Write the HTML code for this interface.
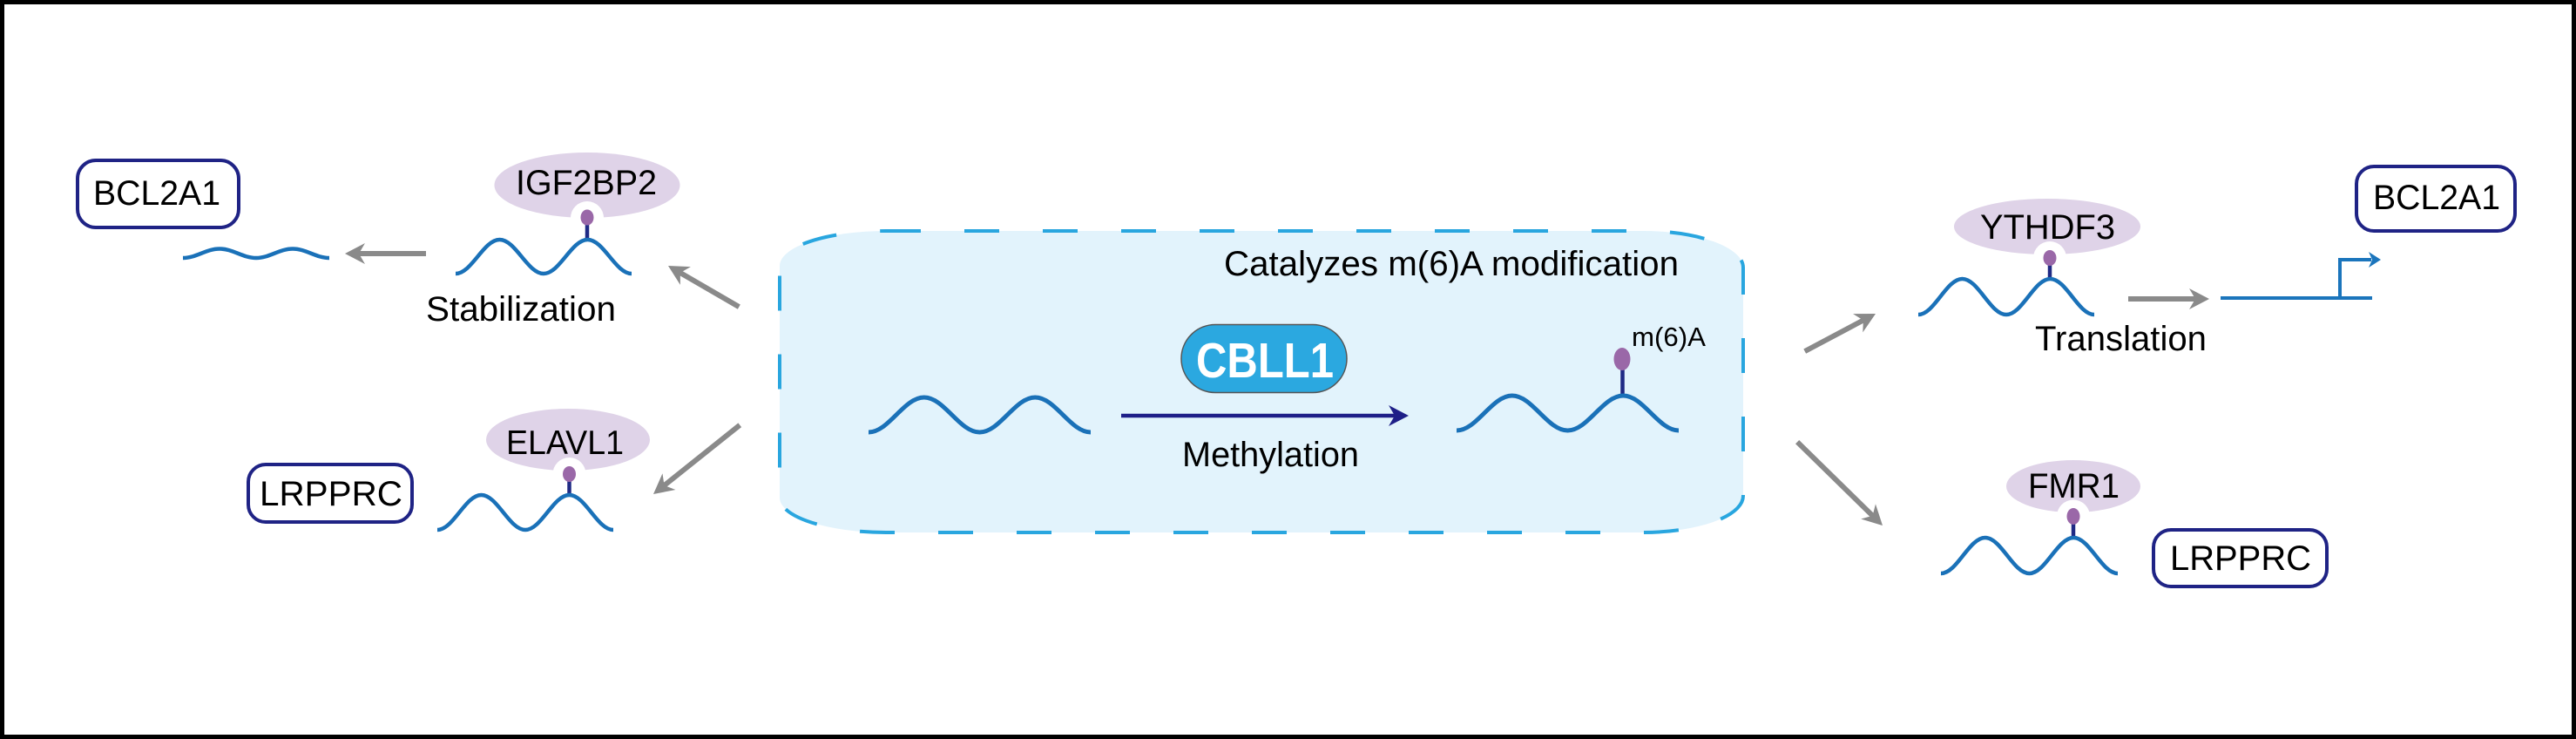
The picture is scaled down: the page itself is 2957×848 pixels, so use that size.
<!DOCTYPE html>
<html>
<head>
<meta charset="utf-8">
<style>
  html, body { margin: 0; padding: 0; background: #ffffff; }
  svg { display: block; }
  text { font-family: "Liberation Sans", Arial, sans-serif; fill: #000; }
</style>
</head>
<body>
<svg xmlns="http://www.w3.org/2000/svg" width="2957" height="848" viewBox="0 0 2957 848">
  <rect x="0" y="0" width="2957" height="848" fill="#ffffff"/>
  <!-- outer border -->
  <rect x="2.5" y="2.5" width="2952" height="843" fill="none" stroke="#000" stroke-width="5"/>

  <!-- central dashed box -->
  <path d="M1017,265 H1886 A115,42 0 0 1 2001,307 V569 A115,42 0 0 1 1886,611 H1017 A122,40 0 0 1 895,571 V305 A122,40 0 0 1 1017,265 Z"
        fill="#e2f3fc" stroke="#29a6df" stroke-width="4" stroke-dasharray="40 50"/>

  <!-- ============ LEFT SIDE ============ -->
  <!-- BCL2A1 box left -->
  <rect x="89" y="184" width="185" height="77" rx="21" ry="21" fill="#fff" stroke="#1f2385" stroke-width="4"/>
  <text x="107" y="235" font-size="40" textLength="146" lengthAdjust="spacingAndGlyphs">BCL2A1</text>

  <!-- flat wave -->
  <path d="M210,296 C225.3,296 236.7,285.5 252,285.5 S278.7,296 294,296 S320.7,285.5 336,285.5 S362.7,296 378,296"
        fill="none" stroke="#1a71b8" stroke-width="4.5"/>

  <!-- gray arrow left horizontal -->
  <g transform="translate(396,291) rotate(180)" fill="#8a8a8a" stroke="none">
    <line x1="-93" y1="0" x2="-15" y2="0" stroke="#8a8a8a" stroke-width="6"/>
    <path d="M0,0 L-23,-12 L-16,0 L-23,12 Z"/>
  </g>

  <!-- IGF2BP2 -->
  <ellipse cx="674" cy="212.5" rx="106.5" ry="37.5" fill="#dfd3e8"/>
  <text x="592" y="223" font-size="40" textLength="162" lengthAdjust="spacingAndGlyphs">IGF2BP2</text>
  <circle cx="674" cy="250" r="19" fill="#fff"/>
  <line x1="674" y1="256" x2="674" y2="277" stroke="#1f2a85" stroke-width="4.5"/>
  <ellipse cx="674" cy="249.5" rx="7.5" ry="9" fill="#9a68a8"/>
  <path d="M523,314 C541.35,314 555.15,275 573.5,275 S605.65,314 624,314 S656.15,275 674.5,275 S706.65,314 725,314"
        fill="none" stroke="#1a71b8" stroke-width="4.5"/>
  <text x="489" y="368" font-size="40" textLength="218" lengthAdjust="spacingAndGlyphs">Stabilization</text>

  <!-- gray arrow upper-left diag -->
  <g transform="translate(767,305) rotate(210.1)" fill="#8a8a8a">
    <line x1="-94" y1="0" x2="-15" y2="0" stroke="#8a8a8a" stroke-width="6"/>
    <path d="M0,0 L-23,-12 L-16,0 L-23,12 Z"/>
  </g>

  <!-- LRPPRC left -->
  <rect x="285" y="533" width="188" height="66" rx="20" ry="20" fill="#fff" stroke="#1f2385" stroke-width="4"/>
  <text x="298" y="580" font-size="40" textLength="164" lengthAdjust="spacingAndGlyphs">LRPPRC</text>

  <!-- ELAVL1 -->
  <ellipse cx="652" cy="504.5" rx="94" ry="35.5" fill="#dfd3e8"/>
  <text x="581" y="521" font-size="39" textLength="135" lengthAdjust="spacingAndGlyphs">ELAVL1</text>
  <circle cx="653.5" cy="544" r="19" fill="#fff"/>
  <line x1="653.5" y1="550" x2="653.5" y2="570" stroke="#1f2a85" stroke-width="4.5"/>
  <ellipse cx="653.5" cy="544" rx="7.5" ry="9" fill="#9a68a8"/>
  <path d="M502,608 C520.35,608 534.15,568 552.5,568 S584.65,608 603,608 S635.15,568 653.5,568 S685.65,608 704,608"
        fill="none" stroke="#1a71b8" stroke-width="4.5"/>

  <!-- gray arrow lower-left diag -->
  <g transform="translate(750,567) rotate(141.4)" fill="#8a8a8a">
    <line x1="-127" y1="0" x2="-15" y2="0" stroke="#8a8a8a" stroke-width="6"/>
    <path d="M0,0 L-23,-12 L-16,0 L-23,12 Z"/>
  </g>

  <!-- ============ CENTER ============ -->
  <text x="1405" y="316" font-size="40" textLength="522" lengthAdjust="spacingAndGlyphs">Catalyzes m(6)A modification</text>

  <!-- left RNA -->
  <path d="M997,496 C1020.17,496 1037.58,456 1060.75,456 S1101.33,496 1124.5,496 S1165.08,456 1188.25,456 S1228.83,496 1252,496"
        fill="none" stroke="#1a71b8" stroke-width="5"/>

  <!-- CBLL1 pill -->
  <rect x="1356" y="372.5" width="190" height="78" rx="39" ry="39" fill="#2ba8e0" stroke="#555" stroke-width="1.5"/>
  <text x="1373" y="433" font-size="57" font-weight="bold" textLength="158" lengthAdjust="spacingAndGlyphs" style="fill:#ffffff">CBLL1</text>

  <!-- methylation arrow -->
  <g transform="translate(1617,477)" fill="#1e1f88">
    <line x1="-330" y1="0" x2="-15" y2="0" stroke="#1e1f88" stroke-width="4.5"/>
    <path d="M0,0 L-23,-12 L-16,0 L-23,12 Z"/>
  </g>
  <text x="1357" y="535" font-size="40" textLength="203" lengthAdjust="spacingAndGlyphs">Methylation</text>

  <!-- right RNA with m6A -->
  <line x1="1862.5" y1="422" x2="1862.5" y2="455" stroke="#1f2a85" stroke-width="4.5"/>
  <ellipse cx="1862" cy="412" rx="9.5" ry="13" fill="#9a68a8"/>
  <path d="M1672,494 C1695.17,494 1712.58,454 1735.75,454 S1776.33,494 1799.5,494 S1840.08,454 1863.25,454 S1903.83,494 1927,494"
        fill="none" stroke="#1a71b8" stroke-width="5"/>
  <text x="1873" y="397" font-size="31" textLength="85" lengthAdjust="spacingAndGlyphs">m(6)A</text>

  <!-- ============ RIGHT SIDE ============ -->
  <!-- gray arrow right upper diag -->
  <g transform="translate(2153,360) rotate(-27.96)" fill="#8a8a8a">
    <line x1="-92" y1="0" x2="-15" y2="0" stroke="#8a8a8a" stroke-width="6"/>
    <path d="M0,0 L-23,-12 L-16,0 L-23,12 Z"/>
  </g>

  <!-- YTHDF3 -->
  <ellipse cx="2350" cy="260" rx="107" ry="32" fill="#dfd3e8"/>
  <text x="2273" y="274" font-size="40" textLength="155" lengthAdjust="spacingAndGlyphs">YTHDF3</text>
  <circle cx="2353" cy="296" r="19" fill="#fff"/>
  <line x1="2353" y1="302" x2="2353" y2="322" stroke="#1f2a85" stroke-width="4.5"/>
  <ellipse cx="2353" cy="296" rx="7.5" ry="9" fill="#9a68a8"/>
  <path d="M2202,361 C2220.35,361 2234.15,320 2252.5,320 S2284.65,361 2303,361 S2335.15,320 2353.5,320 S2385.65,361 2404,361"
        fill="none" stroke="#1a71b8" stroke-width="4.5"/>
  <text x="2336" y="402" font-size="40" textLength="197" lengthAdjust="spacingAndGlyphs">Translation</text>

  <!-- gray arrow right horizontal -->
  <g transform="translate(2536,343)" fill="#8a8a8a">
    <line x1="-93" y1="0" x2="-15" y2="0" stroke="#8a8a8a" stroke-width="6"/>
    <path d="M0,0 L-23,-12 L-16,0 L-23,12 Z"/>
  </g>

  <!-- promoter -->
  <g stroke="#1b75bc" stroke-width="4" fill="none">
    <line x1="2549" y1="342" x2="2723" y2="342"/>
    <polyline points="2686,342 2686,298 2722,298"/>
  </g>
  <path d="M2733,298 L2719,289 L2723,298 L2719,307 Z" fill="#1b75bc"/>

  <!-- BCL2A1 right -->
  <rect x="2705" y="191" width="182" height="74" rx="20" ry="20" fill="#fff" stroke="#1f2385" stroke-width="4"/>
  <text x="2724" y="240" font-size="40" textLength="146" lengthAdjust="spacingAndGlyphs">BCL2A1</text>

  <!-- gray arrow right lower diag -->
  <g transform="translate(2161,603) rotate(44.4)" fill="#8a8a8a">
    <line x1="-137" y1="0" x2="-15" y2="0" stroke="#8a8a8a" stroke-width="6"/>
    <path d="M0,0 L-23,-12 L-16,0 L-23,12 Z"/>
  </g>

  <!-- FMR1 -->
  <ellipse cx="2380" cy="558" rx="77" ry="30" fill="#dfd3e8"/>
  <text x="2328" y="571" font-size="40" textLength="105" lengthAdjust="spacingAndGlyphs">FMR1</text>
  <circle cx="2380" cy="592.5" r="19" fill="#fff"/>
  <line x1="2380" y1="598" x2="2380" y2="619" stroke="#1f2a85" stroke-width="4.5"/>
  <ellipse cx="2380" cy="592.5" rx="7.5" ry="9.5" fill="#9a68a8"/>
  <path d="M2228,658 C2246.44,658 2260.31,617 2278.75,617 S2311.06,658 2329.5,658 S2361.81,617 2380.25,617 S2412.56,658 2431,658"
        fill="none" stroke="#1a71b8" stroke-width="4.5"/>

  <!-- LRPPRC right -->
  <rect x="2472" y="608" width="199" height="65" rx="20" ry="20" fill="#fff" stroke="#1f2385" stroke-width="4"/>
  <text x="2491" y="654" font-size="40" textLength="162" lengthAdjust="spacingAndGlyphs">LRPPRC</text>
</svg>
</body>
</html>
